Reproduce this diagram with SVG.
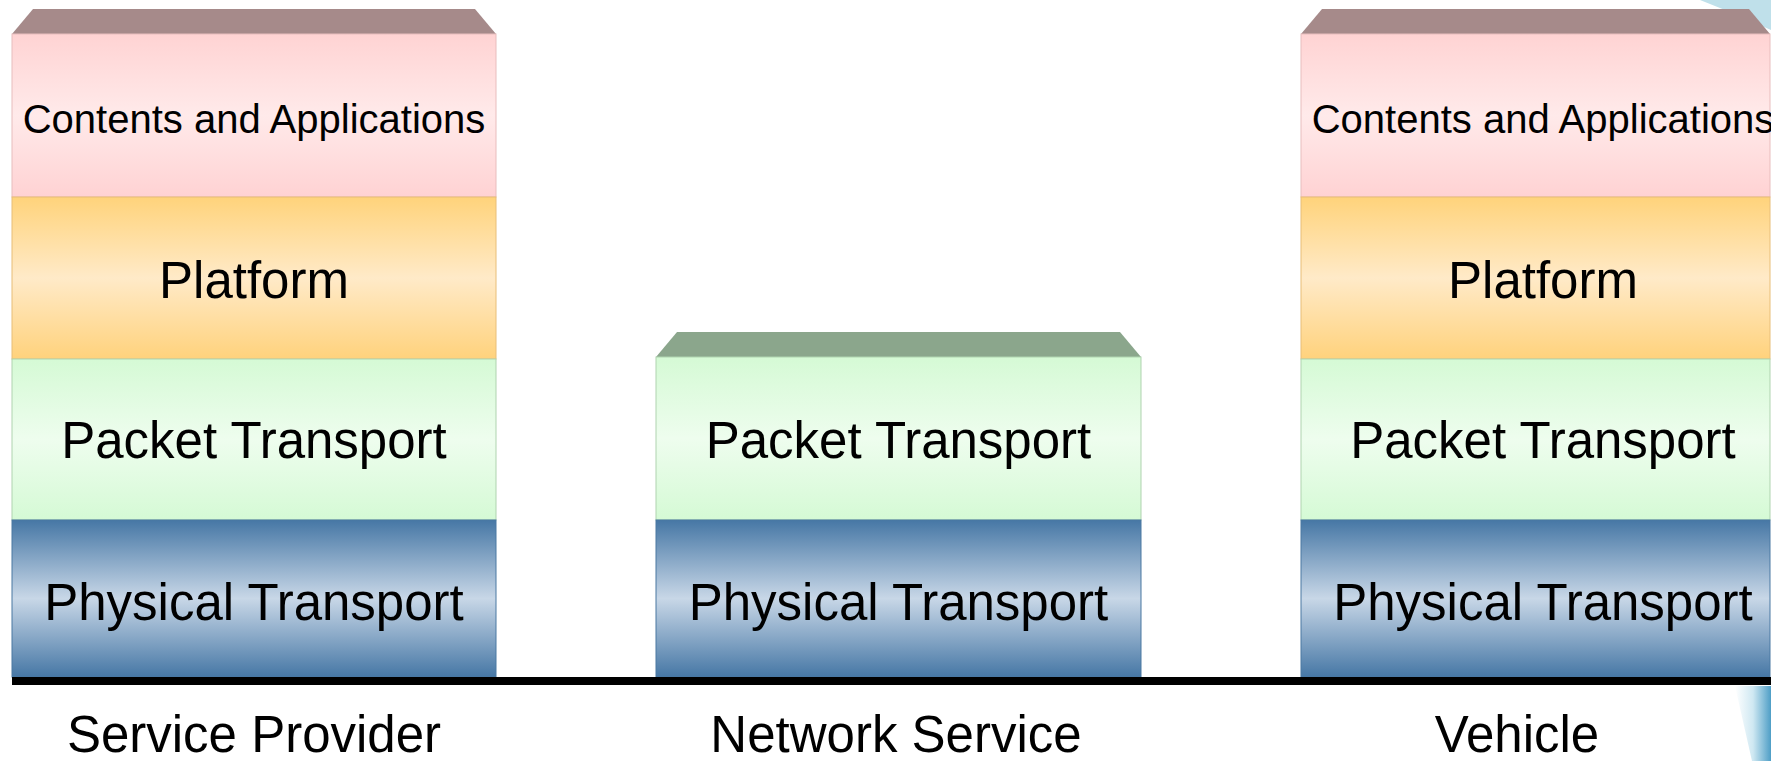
<svg xmlns="http://www.w3.org/2000/svg" width="1771" height="761" viewBox="0 0 1771 761">
<style>
.t{font-family:"Liberation Sans",Arial,sans-serif;fill:#000;text-anchor:middle}
.big{font-size:51px}
.small{font-size:40px}
.pink{fill:url(#gPink);stroke:#E8BDBD;stroke-width:1}
.orange{fill:url(#gOrange);stroke:#E8BE78;stroke-width:1}
.green{fill:url(#gGreen);stroke:#AFD3AF;stroke-width:1}
.blue{fill:url(#gBlue);stroke:#4A78A2;stroke-width:1}
.capP{fill:#A68A8A}
.capG{fill:#8BA68C}
</style>
<defs>
<linearGradient id="gPink" x1="0" y1="0" x2="0" y2="1">
<stop offset="0" stop-color="#FFD3D3"/><stop offset="0.5" stop-color="#FFEAEA"/><stop offset="1" stop-color="#FFD2D3"/>
</linearGradient>
<linearGradient id="gOrange" x1="0" y1="0" x2="0" y2="1">
<stop offset="0" stop-color="#FFD37B"/><stop offset="0.5" stop-color="#FFEAC8"/><stop offset="1" stop-color="#FFD27C"/>
</linearGradient>
<linearGradient id="gGreen" x1="0" y1="0" x2="0" y2="1">
<stop offset="0" stop-color="#D5FAD5"/><stop offset="0.5" stop-color="#EEFDEE"/><stop offset="1" stop-color="#D5FAD5"/>
</linearGradient>
<linearGradient id="gBlue" x1="0" y1="0" x2="0" y2="1">
<stop offset="0" stop-color="#4677A5"/><stop offset="0.5" stop-color="#C8D7E7"/><stop offset="1" stop-color="#4677A5"/>
</linearGradient>
<linearGradient id="gDeco" x1="0" y1="0" x2="1" y2="0">
<stop offset="0" stop-color="#FFFFFF"/><stop offset="0.5" stop-color="#CFE8F2"/><stop offset="1" stop-color="#4E9EC6"/>
</linearGradient>
</defs>
<rect width="1771" height="761" fill="#FFFFFF"/>
<g id="decoration">
<path d="M1700,0 L1771,0 L1771,30 L1730,12 Z" fill="#BFE0EA"/>
<path d="M1735,686 L1771,686 L1771,761 L1752,761 Z" fill="url(#gDeco)"/>
</g>
<g id="service-provider">
<path class="capP" d="M12,34 L33,9 L475,9 L496,34 Z"/>
<rect class="pink" x="12" y="34" width="484" height="163"/>
<rect class="orange" x="12" y="197" width="484" height="162"/>
<rect class="green" x="12" y="359" width="484" height="161"/>
<rect class="blue" x="12" y="520" width="484" height="157"/>
<text class="t small" x="254" y="133">Contents and Applications</text>
<text class="t big" x="254" y="298">Platform</text>
<text class="t big" x="254" y="458">Packet Transport</text>
<text class="t big" x="254" y="620">Physical Transport</text>
<text class="t big" x="254" y="752">Service Provider</text>
</g>
<g id="network-service">
<path class="capG" d="M656,357 L677,332 L1120,332 L1141,357 Z"/>
<rect class="green" x="656" y="357" width="485" height="163"/>
<rect class="blue" x="656" y="520" width="485" height="157"/>
<text class="t big" x="898.5" y="458">Packet Transport</text>
<text class="t big" x="898.5" y="620">Physical Transport</text>
<text class="t big" x="896" y="752">Network Service</text>
</g>
<g id="vehicle">
<path class="capP" d="M1301,34 L1322,9 L1749,9 L1770,34 Z"/>
<rect class="pink" x="1301" y="34" width="469" height="163"/>
<rect class="orange" x="1301" y="197" width="469" height="162"/>
<rect class="green" x="1301" y="359" width="469" height="161"/>
<rect class="blue" x="1301" y="520" width="469" height="157"/>
<text class="t small" x="1543" y="133">Contents and Applications</text>
<text class="t big" x="1543" y="298">Platform</text>
<text class="t big" x="1543" y="458">Packet Transport</text>
<text class="t big" x="1543" y="620">Physical Transport</text>
<text class="t big" x="1517" y="752">Vehicle</text>
</g>
<g id="connectors">
<rect x="12" y="677" width="1759" height="8" fill="#000000"/>
</g>
</svg>
